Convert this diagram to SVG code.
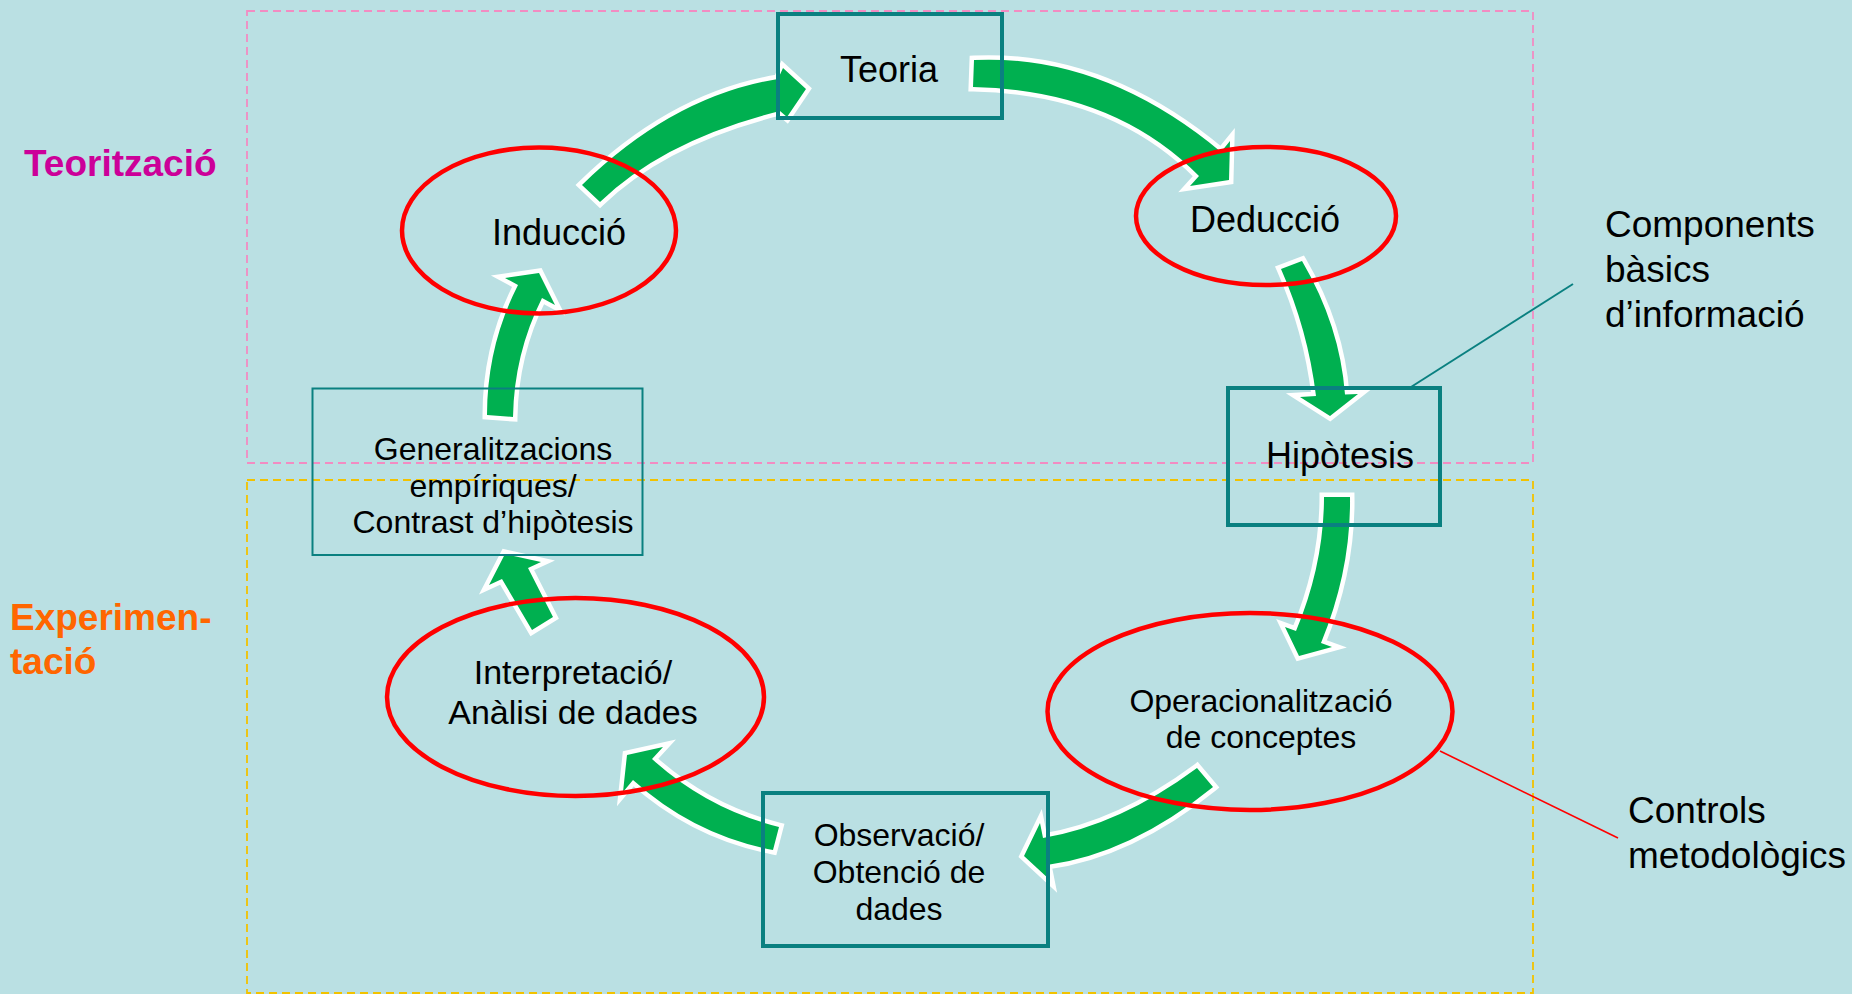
<svg xmlns="http://www.w3.org/2000/svg" width="1852" height="994" viewBox="0 0 1852 994">
<style>
.bg{fill:#BAE0E3}
.zone{fill:none;stroke-width:1.8;stroke-dasharray:8 5}
.pink{stroke:#F28CC2}
.yellow{stroke:#F2C200}
.arrow{fill:#00B050;stroke:#FFFFFF;stroke-width:9;stroke-linejoin:miter;stroke-miterlimit:8;paint-order:stroke fill}
.box{fill:none;stroke:#0A8080;stroke-width:4}
.thinbox{fill:none;stroke:#0A8080;stroke-width:2}
.oval{fill:none;stroke:#FF0000;stroke-width:4.5}
.lead-teal{stroke:#0A8080;stroke-width:2;fill:none}
.lead-red{stroke:#FF0000;stroke-width:1.6;fill:none}
text{font-family:"Liberation Sans",Arial,sans-serif;fill:#000000}
.c{text-anchor:middle}
.big{font-size:36px}
.med{font-size:32px}
.m34{font-size:34px}
.side{font-size:37px}
.phase{font-size:37px;font-weight:bold}
</style>
<rect class="bg" x="0" y="0" width="1852" height="994"/>
<g id="zones">
<rect class="zone pink" x="247" y="11" width="1286" height="452"/>
<rect class="zone yellow" x="247" y="480" width="1286" height="513"/>
</g>
<g id="connectors">
<path class="arrow" d="M 582,185 Q 673,96 778,79 L 783,68 L 806,89 L 787,117 L 780,111 Q 664,140 600,202 Z"/>
<path class="arrow" d="M 974,60 Q 1103,54 1221,152 L 1230,141 L 1229,180 L 1190,186 L 1199,176 Q 1114,90 973,87 Z"/>
<path class="arrow" d="M 1302,261 Q 1340,326 1345,394.5 L 1358,394 L 1330,416 L 1300,397 L 1316,396 Q 1308,330 1281,269 Z"/>
<path class="arrow" d="M 1350,497 Q 1351,570 1321,643 L 1332,647 L 1299,656 L 1285,627 L 1296,631 Q 1324,564 1324,497 Z"/>
<path class="arrow" d="M 1197,768 Q 1120,825 1043,838 L 1040,823 L 1024,856 L 1050,880 L 1047,865 Q 1130,854 1213,787 Z"/>
<path class="arrow" d="M 779,827 Q 707,809 652,759 L 663,747 L 627,755 L 623,792 L 633,780 Q 694,835 773,850 Z"/>
<path class="arrow" d="M 553,617 L 528,568 L 541,562 L 505,554 L 489,585 L 502,579 L 532,630 Z"/>
<path class="arrow" d="M 487,415 Q 487,346 518,285 L 505,278 L 539,273 L 555,305 L 542,298 Q 514,354 513,417 Z"/>
<line class="lead-teal" x1="1411" y1="387" x2="1573" y2="284"/>
<line class="lead-red" x1="1440" y1="751" x2="1618" y2="838"/>
</g>
<g id="teoria">
<rect class="box" x="778" y="14" width="224" height="104"/>
<text class="c big" x="889" y="82">Teoria</text>
</g>
<g id="deduccio">
<ellipse class="oval" cx="1266" cy="216" rx="130" ry="69"/>
<text class="c big" x="1265" y="232">Deducció</text>
</g>
<g id="hipotesis">
<rect class="box" x="1228" y="388" width="212" height="137"/>
<text class="c big" x="1340" y="468">Hipòtesis</text>
</g>
<g id="operacionalitzacio">
<ellipse class="oval" cx="1250" cy="711.5" rx="202.5" ry="98.5"/>
<text class="c med" x="1261" y="712">Operacionalització</text>
<text class="c med" x="1261" y="748">de conceptes</text>
</g>
<g id="observacio">
<rect class="box" x="763" y="793" width="285" height="153"/>
<text class="c med" x="899" y="846">Observació/</text>
<text class="c med" x="899" y="883">Obtenció de</text>
<text class="c med" x="899" y="920">dades</text>
</g>
<g id="interpretacio">
<ellipse class="oval" cx="575.5" cy="697" rx="188.5" ry="99"/>
<text class="c m34" x="573" y="684">Interpretació/</text>
<text class="c m34" x="573" y="724">Anàlisi de dades</text>
</g>
<g id="generalitzacions">
<rect class="thinbox" x="312.5" y="388.5" width="330" height="166.5"/>
<text class="c med" x="493" y="460">Generalitzacions</text>
<text class="c med" x="493" y="497">empíriques/</text>
<text class="c med" x="493" y="533">Contrast d’hipòtesis</text>
</g>
<g id="induccio">
<ellipse class="oval" cx="539" cy="230.5" rx="137" ry="83"/>
<text class="c big" x="559" y="245">Inducció</text>
</g>
<g id="labels">
<text class="phase" x="24" y="176" style="fill:#CC0099">Teorització</text>
<text class="phase" x="10" y="630" style="fill:#FF6600">Experimen-</text>
<text class="phase" x="10" y="674" style="fill:#FF6600">tació</text>
<text class="side" x="1605" y="237">Components</text>
<text class="side" x="1605" y="282">bàsics</text>
<text class="side" x="1605" y="327">d’informació</text>
<text class="side" x="1628" y="823">Controls</text>
<text class="side" x="1628" y="868">metodològics</text>
</g>
</svg>
